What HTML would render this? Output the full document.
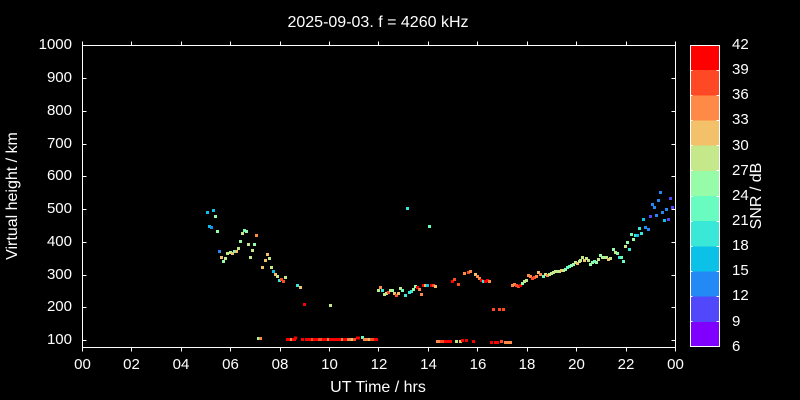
<!DOCTYPE html>
<html><head><meta charset="utf-8"><style>
html,body{margin:0;padding:0;background:#000;width:800px;height:400px;overflow:hidden}
svg{display:block}
text{font-family:"Liberation Sans",Arial,sans-serif;fill:#fff}
</style></head><body>
<svg width="800" height="400" viewBox="0 0 800 400" xmlns="http://www.w3.org/2000/svg">
<rect width="800" height="400" fill="#000"/>
<text x="378" y="27" font-size="16" text-anchor="middle">2025-09-03. f = 4260 kHz</text>

<!-- data points -->
<g shape-rendering="crispEdges">
<!-- early morning -->
<rect x="205.8" y="210.8" width="3" height="3" fill="#0cc1e8"/>
<rect x="211.8" y="208.8" width="3" height="3" fill="#0cc1e8"/>
<rect x="213.8" y="214.8" width="3" height="3" fill="#97fca7"/>
<rect x="207.8" y="224.8" width="3" height="3" fill="#0cc1e8"/>
<rect x="209.8" y="225.8" width="3" height="3" fill="#238af5"/>
<rect x="215.8" y="229.8" width="3" height="3" fill="#97fca7"/>
<rect x="242.8" y="228.8" width="3" height="3" fill="#68fcc1"/>
<rect x="244.8" y="229.8" width="3" height="3" fill="#97fca7"/>
<rect x="240.8" y="231.8" width="3" height="3" fill="#c5e88a"/>
<rect x="254.8" y="233.8" width="3" height="3" fill="#ff8a48"/>
<rect x="238.8" y="239.8" width="3" height="3" fill="#97fca7"/>
<rect x="246.8" y="242.8" width="3" height="3" fill="#c5e88a"/>
<rect x="252.8" y="242.8" width="3" height="3" fill="#97fca7"/>
<rect x="236.8" y="246.8" width="3" height="3" fill="#c5e88a"/>
<rect x="250.8" y="248.8" width="3" height="3" fill="#c5e88a"/>
<rect x="217.8" y="249.8" width="3" height="3" fill="#238af5"/>
<rect x="225.8" y="251.8" width="3" height="3" fill="#c5e88a"/>
<rect x="228.8" y="250.8" width="3" height="3" fill="#c5e88a"/>
<rect x="230.8" y="251.8" width="3" height="3" fill="#f3c16a"/>
<rect x="232.8" y="249.8" width="3" height="3" fill="#68fcc1"/>
<rect x="234.8" y="249.8" width="3" height="3" fill="#f3c16a"/>
<rect x="265.8" y="252.8" width="3" height="3" fill="#f3c16a"/>
<rect x="219.8" y="255.8" width="3" height="3" fill="#f3c16a"/>
<rect x="223.8" y="256.8" width="3" height="3" fill="#c5e88a"/>
<rect x="248.8" y="255.8" width="3" height="3" fill="#c5e88a"/>
<rect x="221.8" y="259.8" width="3" height="3" fill="#97fca7"/>
<rect x="267.8" y="256.8" width="3" height="3" fill="#c5e88a"/>
<rect x="263.8" y="258.8" width="3" height="3" fill="#f3c16a"/>
<rect x="260.8" y="265.8" width="3" height="3" fill="#f3c16a"/>
<rect x="269.8" y="265.8" width="3" height="3" fill="#c5e88a"/>
<rect x="271.8" y="269.8" width="3" height="3" fill="#0cc1e8"/>
<rect x="273.8" y="272.8" width="3" height="3" fill="#f3c16a"/>
<rect x="275.8" y="274.8" width="3" height="3" fill="#c5e88a"/>
<rect x="283.8" y="275.8" width="3" height="3" fill="#c5e88a"/>
<rect x="277.8" y="278.8" width="3" height="3" fill="#3ae8d7"/>
<rect x="279.8" y="277.8" width="3" height="3" fill="#ff4824"/>
<rect x="281.8" y="279.8" width="3" height="3" fill="#ff4824"/>
<rect x="295.8" y="283.8" width="3" height="3" fill="#3ae8d7"/>
<rect x="298.8" y="285.8" width="3" height="3" fill="#f3c16a"/>
<rect x="302.8" y="302.8" width="3" height="3" fill="#ff0000"/>
<rect x="328.8" y="303.8" width="3" height="3" fill="#c5e88a"/>
<rect x="256.8" y="336.8" width="3" height="3" fill="#97fca7"/>
<rect x="258.8" y="336.8" width="3" height="3" fill="#ff8a48"/>
<!-- bottom row 1 -->
<rect x="286" y="338.2" width="10" height="3" fill="#ff0000"/>
<rect x="290" y="338.2" width="2" height="3" fill="#ff8a48"/>
<rect x="294" y="336.5" width="3" height="3" fill="#ff0000"/>
<rect x="301" y="338.2" width="3" height="3" fill="#ff0000"/>
<rect x="305" y="338.2" width="11" height="3" fill="#ff0000"/>
<rect x="311" y="338.2" width="2" height="3" fill="#ff4824"/>
<rect x="315" y="338.2" width="15" height="3" fill="#ff0000"/>
<rect x="318" y="338.2" width="4" height="3" fill="#ff4824"/>
<rect x="327" y="338.2" width="2" height="3" fill="#ff8a48"/>
<rect x="330" y="338.2" width="17" height="3" fill="#ff0000"/>
<rect x="341" y="338.2" width="2" height="3" fill="#ff8a48"/>
<rect x="347" y="338.2" width="4" height="3" fill="#ff8a48"/>
<rect x="351" y="338.2" width="2" height="3" fill="#f3c16a"/>
<rect x="353" y="338.2" width="3" height="3" fill="#ff4824"/>
<rect x="356" y="336.5" width="4" height="3" fill="#ff0000"/>
<rect x="360.8" y="336.2" width="3" height="3" fill="#68fcc1"/>
<rect x="363" y="338.2" width="5" height="3" fill="#ff8a48"/>
<rect x="368" y="338.2" width="2" height="3" fill="#f3c16a"/>
<rect x="370" y="338.2" width="4" height="3" fill="#ff4824"/>
<rect x="374" y="338.2" width="4" height="3" fill="#ff0000"/>
<!-- midday -->
<rect x="405.8" y="206.8" width="3" height="3" fill="#3ae8d7"/>
<rect x="427.8" y="224.8" width="3" height="3" fill="#68fcc1"/>
<rect x="376.8" y="288.8" width="3" height="3" fill="#c5e88a"/>
<rect x="378.8" y="285.8" width="3" height="3" fill="#ff8a48"/>
<rect x="380.8" y="288.8" width="3" height="3" fill="#3ae8d7"/>
<rect x="382.8" y="292.8" width="3" height="3" fill="#c5e88a"/>
<rect x="384.8" y="291.8" width="3" height="3" fill="#c5e88a"/>
<rect x="386.8" y="290.8" width="3" height="3" fill="#ff4824"/>
<rect x="388.8" y="288.8" width="3" height="3" fill="#c5e88a"/>
<rect x="390.8" y="288.8" width="3" height="3" fill="#97fca7"/>
<rect x="392.8" y="291.8" width="3" height="3" fill="#f3c16a"/>
<rect x="394.8" y="293.8" width="3" height="3" fill="#ff4824"/>
<rect x="396.8" y="291.8" width="3" height="3" fill="#f3c16a"/>
<rect x="398.8" y="286.8" width="3" height="3" fill="#c5e88a"/>
<rect x="400.8" y="288.8" width="3" height="3" fill="#68fcc1"/>
<rect x="403.8" y="293.8" width="3" height="3" fill="#3ae8d7"/>
<rect x="407.8" y="290.8" width="3" height="3" fill="#3ae8d7"/>
<rect x="409.8" y="289.8" width="3" height="3" fill="#3ae8d7"/>
<rect x="411.8" y="287.8" width="3" height="3" fill="#97fca7"/>
<rect x="413.8" y="284.8" width="3" height="3" fill="#97fca7"/>
<rect x="415.8" y="285.8" width="3" height="3" fill="#ff0000"/>
<rect x="417.8" y="287.8" width="3" height="3" fill="#ff8a48"/>
<rect x="419.8" y="292.8" width="3" height="3" fill="#ff8a48"/>
<rect x="421.8" y="283.8" width="3" height="3" fill="#ff0000"/>
<rect x="423.8" y="283.8" width="3" height="3" fill="#f3c16a"/>
<rect x="425.8" y="283.8" width="3" height="3" fill="#0cc1e8"/>
<rect x="429.8" y="283.8" width="3" height="3" fill="#ff0000"/>
<rect x="431.8" y="283.8" width="3" height="3" fill="#ff4824"/>
<rect x="433.8" y="284.8" width="3" height="3" fill="#f3c16a"/>
<rect x="450.8" y="279.8" width="3" height="3" fill="#ff0000"/>
<rect x="452.8" y="277.8" width="3" height="3" fill="#ff4824"/>
<rect x="456.8" y="282.8" width="3" height="3" fill="#ff4824"/>
<rect x="462.8" y="271.8" width="3" height="3" fill="#ff8a48"/>
<rect x="466.8" y="270.8" width="3" height="3" fill="#ff4824"/>
<rect x="468.8" y="269.8" width="3" height="3" fill="#ff8a48"/>
<rect x="473.8" y="272.8" width="3" height="3" fill="#f3c16a"/>
<rect x="475.8" y="274.8" width="3" height="3" fill="#ff8a48"/>
<rect x="477.8" y="276.8" width="3" height="3" fill="#ff8a48"/>
<rect x="479.8" y="278.8" width="3" height="3" fill="#ff0000"/>
<rect x="481.8" y="279.8" width="3" height="3" fill="#3ae8d7"/>
<rect x="483.8" y="279.8" width="3" height="3" fill="#ff0000"/>
<rect x="485.8" y="278.8" width="3" height="3" fill="#ff0000"/>
<rect x="487.8" y="279.8" width="3" height="3" fill="#ff8a48"/>
<!-- bottom row 2 -->
<rect x="436" y="339.8" width="4" height="3" fill="#ff8a48"/>
<rect x="440" y="339.8" width="4" height="3" fill="#ff4824"/>
<rect x="444" y="339.8" width="8" height="3" fill="#ff0000"/>
<rect x="454.8" y="339.8" width="3" height="3" fill="#c5e88a"/>
<rect x="458.8" y="339.8" width="3" height="3" fill="#f3c16a"/>
<rect x="460.8" y="338.8" width="3" height="3" fill="#ff0000"/>
<rect x="464.8" y="338.8" width="3" height="3" fill="#ff0000"/>
<rect x="471.8" y="339.8" width="3" height="3" fill="#ff0000"/>
<rect x="491.8" y="307.8" width="3" height="3" fill="#ff4824"/>
<rect x="497.8" y="307.8" width="3" height="3" fill="#ff4824"/>
<rect x="501.8" y="307.8" width="3" height="3" fill="#ff4824"/>
<rect x="489.8" y="340.8" width="3" height="3" fill="#ff0000"/>
<rect x="493.8" y="340.8" width="5" height="3" fill="#ff0000"/>
<rect x="499.8" y="339.8" width="3" height="3" fill="#ff4824"/>
<rect x="503.8" y="340.8" width="8" height="3" fill="#ff8a48"/>
<!-- afternoon/evening -->
<rect x="510.8" y="283.8" width="3" height="3" fill="#ff8a48"/>
<rect x="512.8" y="282.8" width="3" height="3" fill="#ff8a48"/>
<rect x="514.8" y="283.8" width="3" height="3" fill="#ff4824"/>
<rect x="516.8" y="284.8" width="3" height="3" fill="#ff4824"/>
<rect x="518.8" y="283.8" width="3" height="3" fill="#ff0000"/>
<rect x="520.8" y="281.8" width="3" height="3" fill="#97fca7"/>
<rect x="522.8" y="279.8" width="3" height="3" fill="#c5e88a"/>
<rect x="524.8" y="278.8" width="3" height="3" fill="#c5e88a"/>
<rect x="526.8" y="273.8" width="3" height="3" fill="#ff8a48"/>
<rect x="528.8" y="274.8" width="3" height="3" fill="#ff8a48"/>
<rect x="530.8" y="276.8" width="3" height="3" fill="#ff4824"/>
<rect x="532.8" y="275.8" width="3" height="3" fill="#ff4824"/>
<rect x="534.8" y="274.8" width="3" height="3" fill="#ff8a48"/>
<rect x="536.8" y="270.8" width="3" height="3" fill="#f3c16a"/>
<rect x="538.8" y="272.8" width="3" height="3" fill="#ff8a48"/>
<rect x="541.8" y="274.8" width="3" height="3" fill="#68fcc1"/>
<rect x="543.8" y="272.8" width="3" height="3" fill="#c5e88a"/>
<rect x="545.8" y="273.8" width="3" height="3" fill="#ff8a48"/>
<rect x="547.8" y="272.8" width="3" height="3" fill="#c5e88a"/>
<rect x="549.8" y="271.8" width="3" height="3" fill="#c5e88a"/>
<rect x="551.8" y="270.8" width="3" height="3" fill="#c5e88a"/>
<rect x="553.8" y="269.8" width="3" height="3" fill="#c5e88a"/>
<rect x="555.8" y="269.8" width="3" height="3" fill="#c5e88a"/>
<rect x="557.8" y="269.8" width="3" height="3" fill="#c5e88a"/>
<rect x="559.8" y="268.8" width="3" height="3" fill="#f3c16a"/>
<rect x="561.8" y="268.8" width="3" height="3" fill="#c5e88a"/>
<rect x="563.8" y="267.8" width="3" height="3" fill="#97fca7"/>
<rect x="565.8" y="265.8" width="3" height="3" fill="#68fcc1"/>
<rect x="567.8" y="264.8" width="3" height="3" fill="#68fcc1"/>
<rect x="569.8" y="263.8" width="3" height="3" fill="#97fca7"/>
<rect x="571.8" y="262.8" width="3" height="3" fill="#97fca7"/>
<rect x="573.8" y="260.8" width="3" height="3" fill="#c5e88a"/>
<rect x="575.8" y="261.8" width="3" height="3" fill="#f3c16a"/>
<rect x="577.8" y="259.8" width="3" height="3" fill="#c5e88a"/>
<rect x="578.8" y="258.8" width="3" height="3" fill="#c5e88a"/>
<rect x="580.8" y="255.8" width="3" height="3" fill="#c5e88a"/>
<rect x="582.8" y="258.8" width="3" height="3" fill="#f3c16a"/>
<rect x="584.8" y="256.8" width="3" height="3" fill="#c5e88a"/>
<rect x="586.8" y="258.8" width="3" height="3" fill="#c5e88a"/>
<rect x="588.8" y="262.8" width="3" height="3" fill="#97fca7"/>
<rect x="590.8" y="260.8" width="3" height="3" fill="#97fca7"/>
<rect x="592.8" y="259.8" width="3" height="3" fill="#68fcc1"/>
<rect x="594.8" y="260.8" width="3" height="3" fill="#97fca7"/>
<rect x="596.8" y="257.8" width="3" height="3" fill="#c5e88a"/>
<rect x="598.8" y="253.8" width="3" height="3" fill="#97fca7"/>
<rect x="600.8" y="255.8" width="3" height="3" fill="#c5e88a"/>
<rect x="602.8" y="255.8" width="3" height="3" fill="#97fca7"/>
<rect x="604.8" y="255.8" width="3" height="3" fill="#c5e88a"/>
<rect x="606.8" y="257.8" width="3" height="3" fill="#f3c16a"/>
<rect x="608.8" y="256.8" width="3" height="3" fill="#c5e88a"/>
<rect x="611.8" y="247.8" width="3" height="3" fill="#97fca7"/>
<rect x="613.8" y="250.8" width="3" height="3" fill="#c5e88a"/>
<rect x="615.8" y="251.8" width="3" height="3" fill="#97fca7"/>
<rect x="617.8" y="255.8" width="3" height="3" fill="#3ae8d7"/>
<rect x="619.8" y="255.8" width="3" height="3" fill="#68fcc1"/>
<rect x="621.8" y="259.8" width="3" height="3" fill="#68fcc1"/>
<rect x="623.8" y="244.8" width="3" height="3" fill="#c5e88a"/>
<rect x="625.8" y="240.8" width="3" height="3" fill="#97fca7"/>
<rect x="627.8" y="247.8" width="3" height="3" fill="#3ae8d7"/>
<rect x="629.8" y="232.8" width="3" height="3" fill="#68fcc1"/>
<rect x="631.8" y="237.8" width="3" height="3" fill="#97fca7"/>
<rect x="633.8" y="233.8" width="3" height="3" fill="#3ae8d7"/>
<rect x="635.8" y="233.8" width="3" height="3" fill="#0cc1e8"/>
<rect x="637.8" y="226.8" width="3" height="3" fill="#3ae8d7"/>
<rect x="639.8" y="231.8" width="3" height="3" fill="#3ae8d7"/>
<rect x="641.8" y="217.8" width="3" height="3" fill="#0cc1e8"/>
<rect x="643.8" y="225.8" width="3" height="3" fill="#238af5"/>
<rect x="646.8" y="227.8" width="3" height="3" fill="#238af5"/>
<rect x="648.8" y="214.8" width="3" height="3" fill="#5148fc"/>
<rect x="650.8" y="202.8" width="3" height="3" fill="#238af5"/>
<rect x="652.8" y="205.8" width="3" height="3" fill="#238af5"/>
<rect x="654.8" y="213.8" width="3" height="3" fill="#238af5"/>
<rect x="656.8" y="198.8" width="3" height="3" fill="#238af5"/>
<rect x="658.8" y="190.8" width="3" height="3" fill="#238af5"/>
<rect x="660.8" y="210.8" width="3" height="3" fill="#238af5"/>
<rect x="662.8" y="218.8" width="3" height="3" fill="#0cc1e8"/>
<rect x="664.8" y="207.8" width="3" height="3" fill="#238af5"/>
<rect x="666.8" y="217.8" width="3" height="3" fill="#5148fc"/>
<rect x="668.8" y="196.8" width="3" height="3" fill="#5148fc"/>
<rect x="670.8" y="205.8" width="3" height="3" fill="#5148fc"/>
</g>

<!-- axes frame -->
<g stroke="#fff" stroke-width="1" fill="none" shape-rendering="crispEdges">
<rect x="82.5" y="45.5" width="593" height="302"/>
<!-- y ticks inward left & right -->
<path d="M82.5 45.5h4M82.5 78.5h4M82.5 111.5h4M82.5 144.5h4M82.5 176.5h4M82.5 209.5h4M82.5 242.5h4M82.5 275.5h4M82.5 307.5h4M82.5 340.5h4"/>
<path d="M675.5 45.5h-4M675.5 78.5h-4M675.5 111.5h-4M675.5 144.5h-4M675.5 176.5h-4M675.5 209.5h-4M675.5 242.5h-4M675.5 275.5h-4M675.5 307.5h-4M675.5 340.5h-4"/>
<!-- x ticks outward bottom & top -->
<path d="M82.5 347.5v4M131.5 347.5v4M181.5 347.5v4M230.5 347.5v4M280.5 347.5v4M329.5 347.5v4M378.5 347.5v4M428.5 347.5v4M477.5 347.5v4M527.5 347.5v4M576.5 347.5v4M626.5 347.5v4M675.5 347.5v4"/>
<path d="M82.5 45.5v-4M131.5 45.5v-4M181.5 45.5v-4M230.5 45.5v-4M280.5 45.5v-4M329.5 45.5v-4M378.5 45.5v-4M428.5 45.5v-4M477.5 45.5v-4M527.5 45.5v-4M576.5 45.5v-4M626.5 45.5v-4M675.5 45.5v-4"/>
</g>

<!-- y tick labels -->
<g font-size="15" text-anchor="end">
<text x="72" y="49">1000</text>
<text x="72" y="82">900</text>
<text x="72" y="115">800</text>
<text x="72" y="148">700</text>
<text x="72" y="180">600</text>
<text x="72" y="213">500</text>
<text x="72" y="246">400</text>
<text x="72" y="279">300</text>
<text x="72" y="311">200</text>
<text x="72" y="344">100</text>
</g>
<!-- x tick labels -->
<g font-size="15" text-anchor="middle">
<text x="82.5" y="369">00</text>
<text x="131.5" y="369">02</text>
<text x="181" y="369">04</text>
<text x="230.5" y="369">06</text>
<text x="280" y="369">08</text>
<text x="329.5" y="369">10</text>
<text x="379" y="369">12</text>
<text x="428.5" y="369">14</text>
<text x="478" y="369">16</text>
<text x="527" y="369">18</text>
<text x="576.5" y="369">20</text>
<text x="626" y="369">22</text>
<text x="675.5" y="369">00</text>
</g>
<text x="378" y="392" font-size="16" text-anchor="middle">UT Time / hrs</text>
<text transform="translate(17,196) rotate(-90)" font-size="16" text-anchor="middle">Virtual height / km</text>

<!-- colorbar -->
<g shape-rendering="crispEdges">
<rect x="690" y="45" width="30" height="25.2" fill="#ff0000"/>
<rect x="690" y="70.2" width="30" height="25.2" fill="#ff4824"/>
<rect x="690" y="95.3" width="30" height="25.2" fill="#ff8a48"/>
<rect x="690" y="120.5" width="30" height="25.2" fill="#f3c16a"/>
<rect x="690" y="145.7" width="30" height="25.2" fill="#c5e88a"/>
<rect x="690" y="170.8" width="30" height="25.2" fill="#97fca7"/>
<rect x="690" y="196" width="30" height="25.2" fill="#68fcc1"/>
<rect x="690" y="221.2" width="30" height="25.2" fill="#3ae8d7"/>
<rect x="690" y="246.3" width="30" height="25.2" fill="#0cc1e8"/>
<rect x="690" y="271.5" width="30" height="25.2" fill="#238af5"/>
<rect x="690" y="296.7" width="30" height="25.2" fill="#5148fc"/>
<rect x="690" y="321.8" width="30" height="25.2" fill="#8000ff"/>
</g>
<g stroke="#fff" stroke-width="1" fill="none" shape-rendering="crispEdges">
<rect x="690.5" y="45.5" width="29" height="301"/>
<path d="M690.5 70.5h2M690.5 95.5h2M690.5 120.5h2M690.5 145.5h2M690.5 170.5h2M690.5 196.5h2M690.5 221.5h2M690.5 246.5h2M690.5 271.5h2M690.5 296.5h2M690.5 321.5h2"/>
<path d="M719.5 70.5h-3M719.5 95.5h-3M719.5 120.5h-3M719.5 145.5h-3M719.5 170.5h-3M719.5 196.5h-3M719.5 221.5h-3M719.5 246.5h-3M719.5 271.5h-3M719.5 296.5h-3M719.5 321.5h-3"/>
</g>
<g font-size="15">
<text x="732" y="49">42</text>
<text x="732" y="74">39</text>
<text x="732" y="99">36</text>
<text x="732" y="124">33</text>
<text x="732" y="150">30</text>
<text x="732" y="175">27</text>
<text x="732" y="200">24</text>
<text x="732" y="225">21</text>
<text x="732" y="250">18</text>
<text x="732" y="275">15</text>
<text x="732" y="300">12</text>
<text x="732" y="326">9</text>
<text x="732" y="351">6</text>
</g>
<text transform="translate(761,196) rotate(-90)" font-size="16" text-anchor="middle">SNR / dB</text>
</svg>
</body></html>
